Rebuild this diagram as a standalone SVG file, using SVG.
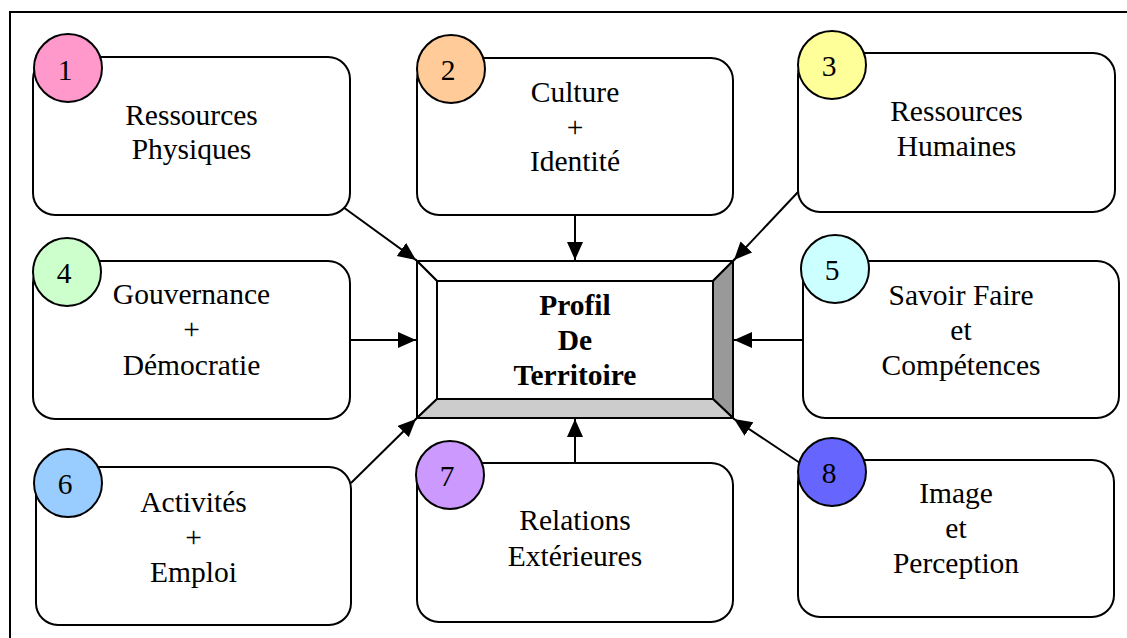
<svg xmlns="http://www.w3.org/2000/svg" width="1127" height="638" viewBox="0 0 1127 638">
<style>
.box{fill:#fff;stroke:#000;stroke-width:2}
.num{stroke:#000;stroke-width:2}
.t{font-family:"Liberation Serif","Times New Roman",serif;font-size:29.5px;fill:#000;text-anchor:middle}
.b{font-weight:bold}
.c{stroke:#000;stroke-width:2;fill:none;marker-end:url(#ah)}
.bev{stroke:#000;stroke-width:2;stroke-linejoin:miter}
</style>
<defs>
<marker id="ah" markerUnits="userSpaceOnUse" markerWidth="19" markerHeight="17" refX="18" refY="8" orient="auto" viewBox="0 0 19 17">
<path d="M0,0 L18,8 L0,16 z" fill="#000"/>
</marker>
</defs>
<rect x="10" y="12" width="1140" height="660" fill="#fff" stroke="#000" stroke-width="2"/>
<g id="connectors">
<line class="c" x1="343" y1="207" x2="416" y2="260"/>
<line class="c" x1="575" y1="215" x2="575" y2="260"/>
<line class="c" x1="798" y1="192" x2="734" y2="260"/>
<line class="c" x1="350" y1="340" x2="416" y2="340"/>
<line class="c" x1="803" y1="340" x2="734" y2="340"/>
<line class="c" x1="351" y1="483" x2="416" y2="419"/>
<line class="c" x1="575" y1="463" x2="575" y2="419"/>
<line class="c" x1="800" y1="463" x2="734" y2="419"/>
</g>
<g id="center">
<polygon class="bev" fill="#fff" points="417,261 733,261 713,281 437,281"/>
<polygon class="bev" fill="#fff" points="417,261 437,281 437,399 417,418"/>
<polygon class="bev" fill="#999999" points="733,261 733,418 713,399 713,281"/>
<polygon class="bev" fill="#cccccc" points="417,418 437,399 713,399 733,418"/>
<rect x="437" y="281" width="276" height="118" fill="#fff" stroke="#000" stroke-width="2"/>
<text class="t b" x="575" y="315">Profil</text>
<text class="t b" x="575" y="350">De</text>
<text class="t b" x="575" y="385">Territoire</text>
</g>
<g id="n1">
<rect class="box" x="33" y="57" width="317" height="158" rx="22"/>
<circle class="num" cx="68" cy="68" r="34" fill="#ff99cc"/>
<text class="t" x="65" y="80">1</text>
<text class="t" x="191.5" y="125">Ressources</text>
<text class="t" x="191.5" y="159">Physiques</text>
</g>
<g id="n2">
<rect class="box" x="417" y="58" width="316" height="157" rx="22"/>
<circle class="num" cx="451" cy="69" r="34" fill="#ffcc99"/>
<text class="t" x="448" y="80">2</text>
<text class="t" x="575" y="102">Culture</text>
<text class="t" x="575" y="137">+</text>
<text class="t" x="575" y="171">Identité</text>
</g>
<g id="n3">
<rect class="box" x="798" y="53" width="317" height="159" rx="22"/>
<circle class="num" cx="832" cy="65" r="34" fill="#ffff99"/>
<text class="t" x="829" y="76">3</text>
<text class="t" x="956.5" y="121">Ressources</text>
<text class="t" x="956.5" y="156">Humaines</text>
</g>
<g id="n4">
<rect class="box" x="33" y="261" width="317" height="158" rx="22"/>
<circle class="num" cx="67" cy="272" r="34" fill="#ccffcc"/>
<text class="t" x="64" y="283">4</text>
<text class="t" x="191.5" y="304">Gouvernance</text>
<text class="t" x="191.5" y="339">+</text>
<text class="t" x="191.5" y="375">Démocratie</text>
</g>
<g id="n5">
<rect class="box" x="803" y="261" width="316" height="157" rx="22"/>
<circle class="num" cx="835" cy="269" r="34" fill="#ccffff"/>
<text class="t" x="832" y="280">5</text>
<text class="t" x="961" y="305">Savoir Faire</text>
<text class="t" x="961" y="340">et</text>
<text class="t" x="961" y="375">Compétences</text>
</g>
<g id="n6">
<rect class="box" x="36" y="467" width="315" height="158" rx="22"/>
<circle class="num" cx="68" cy="483" r="34" fill="#99ccff"/>
<text class="t" x="65" y="494">6</text>
<text class="t" x="193.5" y="512">Activités</text>
<text class="t" x="193.5" y="547">+</text>
<text class="t" x="193.5" y="582">Emploi</text>
</g>
<g id="n7">
<rect class="box" x="417" y="463" width="316" height="159" rx="22"/>
<circle class="num" cx="450" cy="475" r="34" fill="#cc99ff"/>
<text class="t" x="447" y="486">7</text>
<text class="t" x="575" y="530">Relations</text>
<text class="t" x="575" y="566">Extérieures</text>
</g>
<g id="n8">
<rect class="box" x="798" y="460" width="316" height="157" rx="22"/>
<circle class="num" cx="832" cy="472" r="34" fill="#6666ff"/>
<text class="t" x="829" y="483">8</text>
<text class="t" x="956" y="503">Image</text>
<text class="t" x="956" y="538">et</text>
<text class="t" x="956" y="573">Perception</text>
</g>
</svg>
